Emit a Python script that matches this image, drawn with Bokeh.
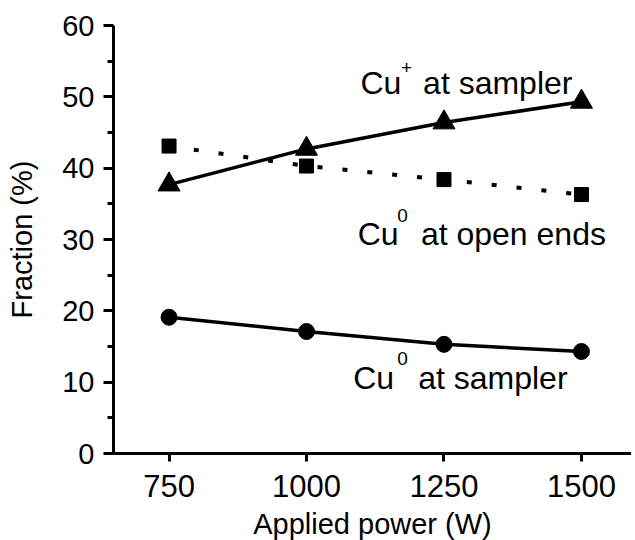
from bokeh.plotting import figure
from bokeh.models import Range1d, FixedTicker, Label
from bokeh.embed import file_html
from bokeh.resources import INLINE

# ---- data ----
power = [750, 1000, 1250, 1500]
cu_plus_sampler = [37.7, 42.7, 46.4, 49.3]
cu0_open_ends = [43.1, 40.3, 38.4, 36.3]
cu0_sampler = [19.1, 17.1, 15.3, 14.3]
x_ticks = [750, 1000, 1250, 1500]
y_ticks = [0, 10, 20, 30, 40, 50, 60]
y_minor = [5, 15, 25, 35, 45, 55]

FONT = "Liberation Sans"

p = figure(frame_width=518, frame_height=428,
           x_range=Range1d(649, 1591), y_range=Range1d(0, 60),
           output_backend="svg", toolbar_location=None,
           min_border_left=113, min_border_top=25,
           min_border_right=0, min_border_bottom=83)
p.outline_line_color = None
p.grid.visible = False
p.background_fill_color = "white"
p.border_fill_color = "white"

p.xaxis.ticker = FixedTicker(ticks=x_ticks)
p.yaxis.ticker = FixedTicker(ticks=y_ticks, minor_ticks=y_minor)
p.xaxis.axis_label = "Applied power (W)"
p.yaxis.axis_label = "Fraction (%)"

for ax in (p.xaxis, p.yaxis):
    ax.axis_line_width = 3
    ax.axis_line_color = "black"
    ax.major_tick_line_width = 3
    ax.major_tick_line_color = "black"
    ax.minor_tick_line_width = 3
    ax.minor_tick_line_color = "black"
    ax.major_tick_in = 0
    ax.major_tick_out = 10
    ax.minor_tick_in = 0
    ax.minor_tick_out = 6
    ax.major_label_text_font = FONT
    ax.major_label_text_color = "black"
    ax.axis_label_text_font = FONT
    ax.axis_label_text_font_style = "normal"
    ax.axis_label_text_color = "black"

p.xaxis.minor_tick_out = 0
p.xaxis.major_tick_out = 8
p.xaxis.major_label_text_font_size = "31px"
p.xaxis.major_label_standoff = 13
p.xaxis.axis_label_text_font_size = "29px"
p.xaxis.axis_label_standoff = 8
p.yaxis.major_label_text_font_size = "29px"
p.yaxis.major_label_standoff = 9
p.yaxis.axis_label_text_font_size = "29px"
p.yaxis.axis_label_standoff = 21

# Cu+ at sampler
p.line(power, cu_plus_sampler, line_width=3.5, line_color="black")
p.scatter(power, cu_plus_sampler, marker="triangle", size=22,
          fill_color="black", line_color="black")
# Cu0 at open ends
p.line(power, cu0_open_ends, line_width=4, line_color="black", line_dash="5 20")
p.scatter(power, cu0_open_ends, marker="square", size=14,
          fill_color="black", line_color="black")
# Cu0 at sampler
p.line(power, cu0_sampler, line_width=3.5, line_color="black")
p.scatter(power, cu0_sampler, marker="circle", size=16,
          fill_color="black", line_color="black")


def add_label(x, y, text, size):
    p.add_layout(Label(x=x, y=y, text=text, text_font=FONT,
                       text_font_size=size, text_color="black",
                       text_align="left", text_baseline="middle"))


add_label(1098, 52.0, "Cu", "32px")
add_label(1172, 54.1, "+", "19px")
add_label(1212, 52.0, "at sampler", "32px")

add_label(1093, 30.8, "Cu", "32px")
add_label(1165, 33.4, "0", "19px")
add_label(1208, 30.8, "at open ends", "32px")

add_label(1085, 10.65, "Cu", "32px")
add_label(1165, 13.25, "0", "19px")
add_label(1203, 10.65, "at sampler", "32px")

open("out.html", "w").write(file_html(p, INLINE))
